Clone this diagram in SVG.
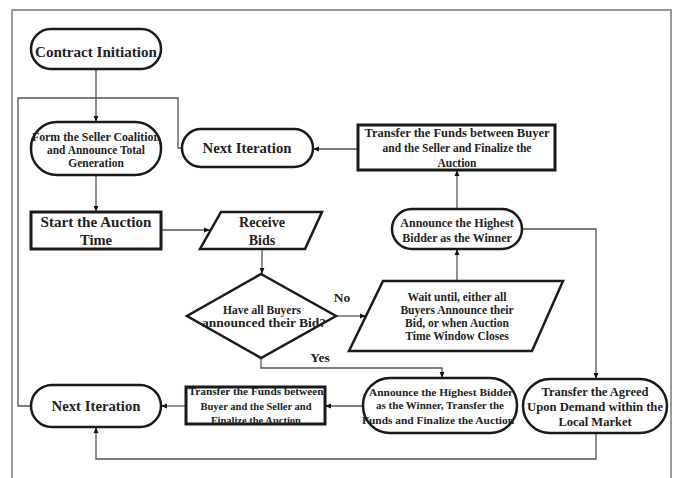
<svg xmlns="http://www.w3.org/2000/svg" width="676" height="478" viewBox="0 0 676 478">
<defs>
<marker id="ah" viewBox="0 0 10 10" refX="10" refY="5" markerWidth="6" markerHeight="6" markerUnits="userSpaceOnUse" orient="auto">
<path d="M0,1 L10,5 L0,9 z" fill="#111"/>
</marker>
<style>
.sh{fill:#fff;stroke:#1a1a1a;stroke-width:2.5}
.bx{fill:#fff;stroke:#1a1a1a;stroke-width:3}
.ln{fill:none;stroke:#555;stroke-width:1.3}
.ar{marker-end:url(#ah)}
text{font-family:"Liberation Serif","Times New Roman",serif;font-weight:bold;fill:#222;text-anchor:middle}
</style>
</defs>
<rect width="676" height="478" fill="#fff"/>
<path d="M12,478 V10 H671 V478" fill="none" stroke="#9a9a9a" stroke-width="2"/>

<g id="connectors">
<path class="ln ar" d="M96,69 V122"/>
<path class="ln" d="M31,406 H18 V98 H178 V148 H182"/>
<path class="ln ar" d="M96,175 V212"/>
<path class="ln ar" d="M161,230 H210"/>
<path class="ln ar" d="M262,249 V274"/>
<path class="ln ar" d="M336,316 H366"/>
<path class="ln ar" d="M457,281 V249"/>
<path class="ln ar" d="M457,209 V170"/>
<path class="ln ar" d="M358,149 H313"/>
<path class="ln ar" d="M522,229 H596 V379"/>
<path class="ln ar" d="M261,358 V368 H442 V378"/>
<path class="ln ar" d="M363,406 H325"/>
<path class="ln ar" d="M186,406 H161"/>
<path class="ln ar" d="M596,433 V459 H96 V427"/>
<text x="342" y="302" font-size="13.5">No</text>
<text x="320" y="362" font-size="13.5">Yes</text>
</g>

<g id="contract-initiation">
<rect class="sh" x="31" y="29" width="130" height="40" rx="20"/>
<text x="96" y="57" font-size="14.5" textLength="122" lengthAdjust="spacingAndGlyphs">Contract Initiation</text>
</g>

<g id="form-coalition">
<rect class="sh" x="31" y="122" width="130" height="53" rx="26"/>
<text x="96" y="141" font-size="11.5" textLength="128" lengthAdjust="spacingAndGlyphs">Form the Seller Coalition</text>
<text x="96" y="154" font-size="11.5" textLength="98" lengthAdjust="spacingAndGlyphs">and Announce Total</text>
<text x="96" y="167" font-size="11.5">Generation</text>
</g>

<g id="next-iteration-top">
<rect class="sh" x="182" y="129" width="131" height="38" rx="19"/>
<text x="247" y="153" font-size="14.5" textLength="89" lengthAdjust="spacingAndGlyphs">Next Iteration</text>
</g>

<g id="transfer-funds-top">
<rect class="bx" x="358" y="125" width="197" height="45"/>
<text x="457" y="137" font-size="11.5" textLength="185" lengthAdjust="spacingAndGlyphs">Transfer the Funds between Buyer</text>
<text x="457" y="152" font-size="11.5">and the Seller and Finalize the</text>
<text x="457" y="167" font-size="11.5">Auction</text>
</g>

<g id="start-auction">
<rect class="bx" x="31" y="212" width="130" height="37"/>
<text x="96" y="227" font-size="14.5" textLength="111" lengthAdjust="spacingAndGlyphs">Start the Auction</text>
<text x="96" y="245" font-size="14.5">Time</text>
</g>

<g id="receive-bids">
<polygon class="sh" points="221,212 322,212 305,249 200,249"/>
<text x="262" y="227" font-size="14">Receive</text>
<text x="262" y="245" font-size="14">Bids</text>
</g>

<g id="decision">
<polygon class="sh" points="261,274 336,316 261,358 187,316"/>
<text x="262" y="314" font-size="11.5">Have all Buyers</text>
<text x="264" y="327" font-size="11.5" textLength="124" lengthAdjust="spacingAndGlyphs">announced their Bid?</text>
</g>

<g id="wait">
<polygon class="sh" points="383,281 563,281 532,351 349,351"/>
<text x="457" y="301" font-size="11.5">Wait until, either all</text>
<text x="457" y="314" font-size="11.5">Buyers Announce their</text>
<text x="457" y="327" font-size="11.5">Bid, or when Auction</text>
<text x="457" y="340" font-size="11.5">Time Window Closes</text>
</g>

<g id="announce-upper">
<rect class="sh" x="392" y="209" width="130" height="40" rx="20"/>
<text x="457" y="227" font-size="12">Announce the Highest</text>
<text x="457" y="242" font-size="12">Bidder as the Winner</text>
</g>

<g id="transfer-agreed">
<rect class="sh" x="523" y="379" width="144" height="54" rx="27"/>
<text x="595" y="396" font-size="12.5">Transfer the Agreed</text>
<text x="595" y="411" font-size="12.5" textLength="136" lengthAdjust="spacingAndGlyphs">Upon Demand within the</text>
<text x="595" y="426" font-size="12.5">Local Market</text>
</g>

<g id="announce-lower">
<rect class="sh" x="363" y="378" width="154" height="55" rx="27"/>
<text x="441" y="396" font-size="11" textLength="144" lengthAdjust="spacingAndGlyphs">Announce the Highest Bidder</text>
<text x="440" y="409" font-size="11">as the Winner, Transfer the</text>
<text x="438" y="424" font-size="11" textLength="152" lengthAdjust="spacingAndGlyphs">Funds and Finalize the Auction</text>
</g>

<g id="transfer-funds-lower">
<rect class="bx" x="186" y="387" width="139" height="37"/>
<text x="256" y="395" font-size="10.5" textLength="135" lengthAdjust="spacingAndGlyphs">Transfer the Funds between</text>
<text x="256" y="410" font-size="10.5">Buyer and the Seller and</text>
<text x="256" y="424" font-size="10.5">Finalize the Auction</text>
</g>

<g id="next-iteration-bottom">
<rect class="sh" x="31" y="385" width="130" height="42" rx="21"/>
<text x="96" y="411" font-size="14.5" textLength="89" lengthAdjust="spacingAndGlyphs">Next Iteration</text>
</g>
</svg>
